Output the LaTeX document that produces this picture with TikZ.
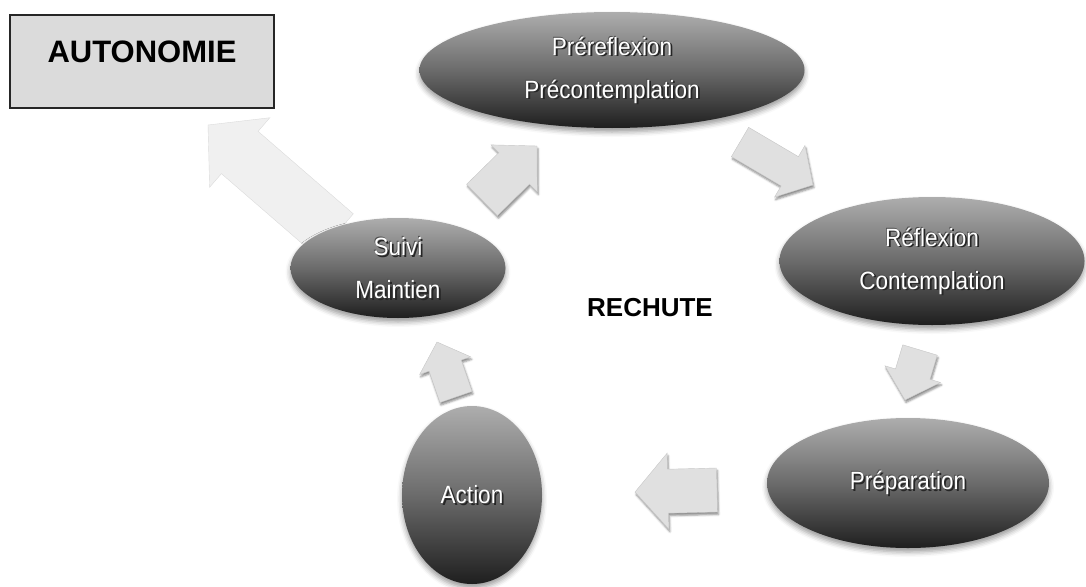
\documentclass[tikz,border=0pt]{standalone}
\usepackage{fontspec}
\setmainfont{Liberation Sans}
\newfontfamily\stagefont[FakeStretch=0.9]{Liberation Sans}
\usetikzlibrary{shapes.geometric,shadows.blur,calc}

\tikzset{
  stage/.style={ellipse, inner sep=0pt, draw=none,
    top color=black!32, bottom color=black!88, middle color=black!58,
    blur shadow={shadow xshift=0pt, shadow yshift=-4pt,
                 shadow blur radius=5pt, shadow opacity=40}},
  stagelbl/.style={text=white, font=\stagefont\fontsize{25}{43}\selectfont,
    align=center, inner sep=0pt},
  stagelblsh/.style={stagelbl, text=black!85},
  flow/.style={fill=black!12, draw=black!22, line width=0.4pt,
    blur shadow={shadow xshift=1pt, shadow yshift=-2.5pt,
                 shadow blur radius=2pt, shadow opacity=45}},
  exitflow/.style={fill=black!6, draw=black!14, line width=0.4pt},
  boxlbl/.style={font=\bfseries\fontsize{31}{36}\selectfont, inner sep=0pt},
}

% block arrow: style, tail, tip, shaft half width, head half width, head length
\newcommand\blockarrow[6]{%
  \coordinate (ba) at ($(#3)!#6!(#2)$);
  \path[#1] ($(#2)!#4!90:(#3)$) -- ($(ba)!#4!90:(#3)$) -- ($(ba)!#5!90:(#3)$)
    -- (#3) -- ($(ba)!#5!-90:(#3)$) -- ($(ba)!#4!-90:(#3)$)
    -- ($(#2)!#4!-90:(#3)$) -- cycle;}

% white stage caption with a dark outline shadow
\newcommand\stagetext[3]{%
  \node[stagelblsh] (#1s) at ($(#2)+(1.8,1.8)$) {#3};
  \node[stagelblsh, text=black!70] (#1t) at ($(#2)+(-0.7,-0.7)$) {#3};
  \node[stagelbl] (#1) at (#2) {#3};}

\begin{document}
\begin{tikzpicture}[x=1pt,y=-1pt]
\useasboundingbox (0,0) rectangle (1086,586);

% exit box
\node[draw=black!85, line width=1.2pt, fill=black!14,
      minimum width=264pt, minimum height=93pt, inner sep=0pt] (auto) at (142,61.5) {};
\node[boxlbl] (autolbl) at (142,52) {AUTONOMIE};

% faint exit arrow towards the box
\coordinate (exT) at (335,235);
\coordinate (exP) at (208,125);
\blockarrow{exitflow}{exT}{exP}{28pt}{46pt}{42pt}

% stages of the cycle
\node[stage, minimum width=385pt, minimum height=116pt] (pre)   at (612,70)  {};
\node[stage, minimum width=305pt, minimum height=128pt] (refl)  at (932,261) {};
\node[stage, minimum width=282pt, minimum height=130pt] (prep)  at (908,483) {};
\node[stage, minimum width=140pt, minimum height=178pt] (act)   at (472,495) {};
\node[stage, minimum width=215pt, minimum height=100pt] (suivi) at (398,268) {};

\stagetext{prelbl}{pre}{Préreflexion\\Précontemplation}
\stagetext{refllbl}{refl}{Réflexion\\Contemplation}
\stagetext{preplbl}{prep}{Préparation}
\stagetext{actlbl}{act}{Action}
\stagetext{suivilbl}{suivi}{Suivi\\Maintien}

% arrows between the stages
\coordinate (t1) at (482,200); \coordinate (p1) at (537,146);
\blockarrow{flow}{t1}{p1}{22pt}{33pt}{32pt}
\coordinate (t2) at (740,142); \coordinate (p2) at (813,185);
\blockarrow{flow}{t2}{p2}{17pt}{30pt}{27pt}
\coordinate (t3) at (920,350); \coordinate (p3) at (905,400);
\blockarrow{flow}{t3}{p3}{18pt}{29pt}{27pt}
\coordinate (t4) at (717,490); \coordinate (p4) at (635,492);
\blockarrow{flow}{t4}{p4}{22pt}{38pt}{33pt}
\coordinate (t5) at (456,397); \coordinate (p5) at (437,342);
\blockarrow{flow}{t5}{p5}{17pt}{27pt}{25pt}

\node[boxlbl, font=\bfseries\fontsize{26}{30}\selectfont] (rech) at (650,308) {RECHUTE};
\end{tikzpicture}
\end{document}
